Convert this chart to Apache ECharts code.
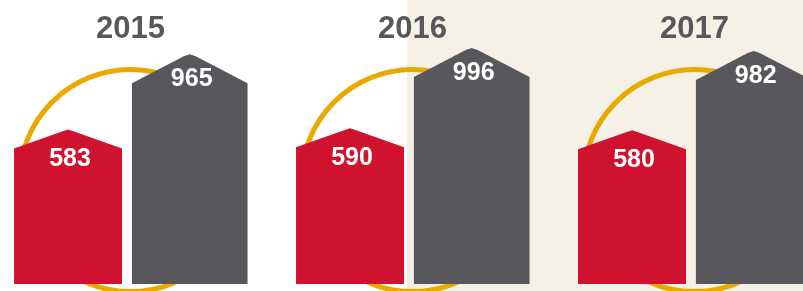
<!DOCTYPE html>
<html>
<head>
<meta charset="utf-8">
<script src="https://cdn.jsdelivr.net/npm/echarts@6/dist/echarts.min.js"></script>
<style>
  html, body { margin: 0; padding: 0; background: #fff; }
  #chart { width: 803px; height: 291px; }
</style>
</head>
<body>
<div id="chart"></div>
<script>
    // 数据
    var years = ['2015', '2016', '2017'];
    var redValues = [583, 590, 580];
    var grayValues = [965, 996, 982];

    var RED = '#cf1230';
    var GRAY = '#58575c';
    var GOLD = '#eaa900';
    var BEIGE = '#f5f1e6';
    var FONT = 'Liberation Sans, Arial, sans-serif';

    // 房子形状的柱子
    function houseItem(color, from, to, roof, labelGap) {
        return function (params, api) {
            var idx = api.value(0);
            var val = api.value(1);
            var pt = api.coord([idx, val]);
            var band = api.size([1, 0])[0];
            var bottom = params.coordSys.y + params.coordSys.height;
            var x0 = pt[0] + band * from;
            var x1 = pt[0] + band * to;
            var xm = (x0 + x1) / 2;
            var peak = pt[1];
            var shoulder = peak + roof;
            return {
                type: 'group',
                children: [{
                    type: 'polygon',
                    shape: { points: [[x0, bottom], [x0, shoulder], [xm - 6, peak + 2], [xm, peak], [xm + 6, peak + 2], [x1, shoulder], [x1, bottom]] },
                    style: { fill: color }
                }, {
                    type: 'text',
                    x: xm + 2,
                    y: peak + labelGap,
                    style: {
                        text: String(val), fill: '#fff', fontSize: 25, fontWeight: 'bold',
                        fontFamily: FONT, align: 'center', verticalAlign: 'middle'
                    }
                }]
            };
        };
    }

    function ringItem(params, api) {
        var pt = api.coord([api.value(0), 0]);
        var cs = params.coordSys;
        return {
            type: 'circle',
            shape: { cx: pt[0], cy: cs.y + cs.height * 0.636, r: 111 },
            style: { fill: 'none', stroke: GOLD, lineWidth: 5 }
        };
    }

    var chart = echarts.init(document.getElementById('chart'));
    var option = {
        backgroundColor: '#fff',
        animation: false,
        graphic: [{
            type: 'rect', left: 407, top: 0, z: -10,
            shape: { width: 400, height: 291 },
            style: { fill: BEIGE }
        }],
        grid: { left: -10.5, right: -32.5, top: 0, bottom: 7, outerBoundsMode: 'none', containLabel: false },
        xAxis: {
            type: 'category', data: years, position: 'top',
            axisLine: { show: false }, axisTick: { show: false },
            axisLabel: { inside: true, margin: 14, color: GRAY, fontSize: 31, fontWeight: 'bold', fontFamily: FONT }
        },
        yAxis: { type: 'value', min: -200, max: 1240, show: false, splitLine: { show: false } },
        series: [{
            type: 'custom', z: 1,
            data: years.map(function (y, i) { return [i]; }),
            renderItem: ringItem
        }, {
            type: 'custom', z: 3,
            data: redValues.map(function (v, i) { return [i, v]; }),
            renderItem: houseItem(RED, -0.413, -0.030, 19, 30)
        }, {
            type: 'custom', z: 3,
            data: grayValues.map(function (v, i) { return [i, v]; }),
            renderItem: houseItem(GRAY, 0.005, 0.415, 29, 25)
        }]
    };
    chart.setOption(option);
</script>
</body>
</html>
